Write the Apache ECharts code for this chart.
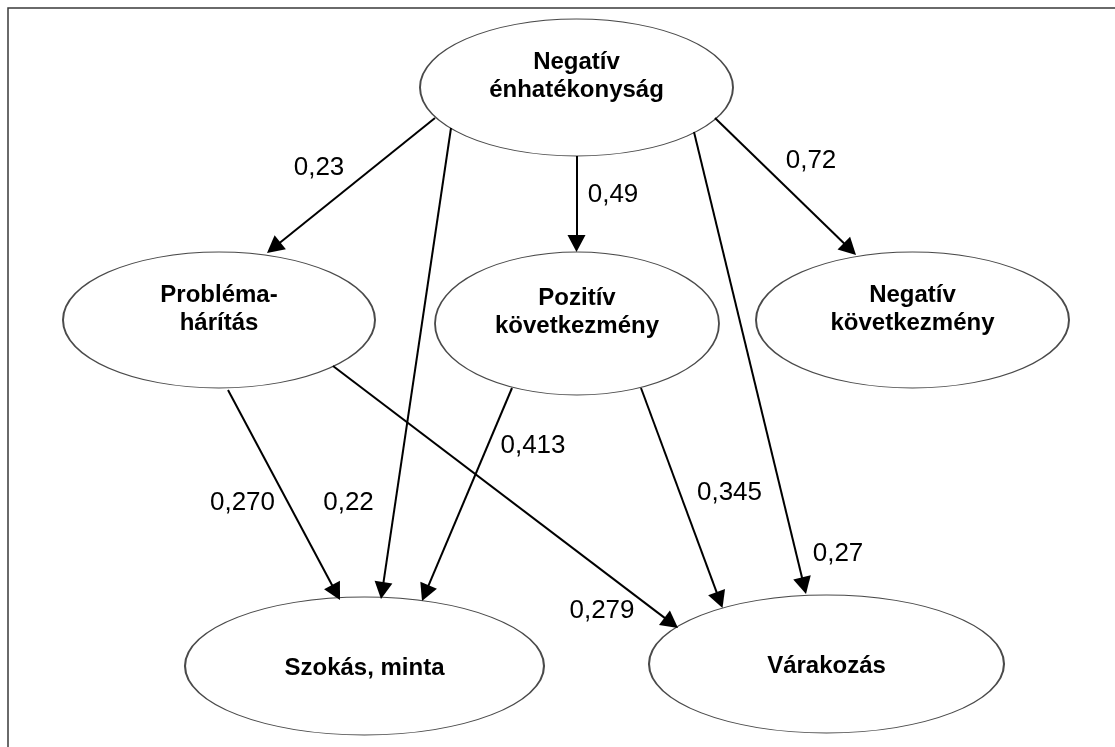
<!DOCTYPE html>
<html>
<head>
<meta charset="utf-8">
<script src="https://cdn.jsdelivr.net/npm/echarts@6/dist/echarts.min.js"></script>
<style>
html,body{margin:0;padding:0;background:#fff;}
#chart{width:1115px;height:747px;}
</style>
</head>
<body>
<div id="chart"></div>
<script>
// ---- Diagram data (positions in the diagram's own x/y units) ----
const nodeNames = ['Negatív\nénhatékonyság', 'Probléma-\nhárítás', 'Pozitív\nkövetkezmény', 'Negatív\nkövetkezmény', 'Szokás, minta', 'Várakozás'];
const nodeX = [576.5, 219, 577, 912.5, 364.5, 826.5];
const nodeY = [87.5, 320, 323.5, 320, 666, 664];
const nodeW = [313, 312, 284, 313, 359, 355];
const nodeH = [137, 136, 143, 136, 138, 138];

const pathCoefficients = ['0,23', '0,22', '0,49', '0,27', '0,72', '0,270', '0,279', '0,413', '0,345'];
const pathStart = [[435,118],[451,128],[576.5,156],[694,132],[715,118],[228,390],[333,366],[512,388],[641,388]];
const pathEnd   = [[267,253],[381,599],[576.5,252],[806,594],[856,255],[340,600],[678,628],[422,601],[722.5,608]];
const coefLabelX = [319, 348.5, 613, 838, 811, 242.5, 602, 533, 729.5];
const coefLabelY = [168, 503, 195, 554, 161, 503, 610.5, 446, 493];

// ---- build options ----
const ARROW_LEN = 17;
const ellipsePath = 'path://M50,0 C77.6,0 100,22.4 100,50 C100,77.6 77.6,100 50,100 C22.4,100 0,77.6 0,50 C0,22.4 22.4,0 50,0 Z';

const nodeData = nodeNames.map((n, i) => ({
  value: [nodeX[i], nodeY[i]],
  name: n,
  symbolSize: [nodeW[i], nodeH[i]],
  label: { offset: [0, n.indexOf('\n') >= 0 ? -11 : 2] }
}));

const lineData = pathStart.map((s, i) => {
  const e = pathEnd[i];
  const dx = e[0] - s[0], dy = e[1] - s[1];
  const len = Math.sqrt(dx * dx + dy * dy);
  const k = (len - ARROW_LEN / 2) / len;
  return { coords: [s, [s[0] + dx * k, s[1] + dy * k]] };
});

const labelData = pathCoefficients.map((c, i) => ({ value: [coefLabelX[i], coefLabelY[i]], name: c }));

const chart = echarts.init(document.getElementById('chart'));
chart.setOption({
  animation: false,
  backgroundColor: '#fff',
  grid: { left: 0, right: 0, top: 0, bottom: 0 },
  xAxis: { type: 'value', min: 0, max: 1115, show: false },
  yAxis: { type: 'value', min: 0, max: 747, inverse: true, show: false },
  graphic: [{
    type: 'rect', z: 100, silent: true,
    shape: { x: 8, y: 8, width: 1130, height: 760 },
    style: { fill: 'none', stroke: '#3a3a3a', lineWidth: 1.5 }
  }],
  series: [
    {
      type: 'scatter', z: 2,
      data: nodeData,
      symbol: ellipsePath,
      symbolKeepAspect: false,
      itemStyle: { color: '#fff', borderColor: '#4a4a4a', borderWidth: 1.3, opacity: 1 },
      label: {
        show: true, position: 'inside',
        formatter: p => p.name,
        fontFamily: '"Liberation Sans", Arial, sans-serif',
        fontWeight: 'bold', fontSize: 24, lineHeight: 28, color: '#000', align: 'center'
      },
      emphasis: { disabled: true }
    },
    {
      type: 'lines', coordinateSystem: 'cartesian2d', z: 3,
      data: lineData,
      symbol: ['none', 'triangle'],
      symbolSize: [0, [18, ARROW_LEN]],
      lineStyle: { color: '#000', width: 2, opacity: 1, curveness: 0 },
      emphasis: { disabled: true }
    },
    {
      type: 'scatter', z: 4,
      data: labelData,
      symbolSize: 0,
      itemStyle: { opacity: 1 },
      label: {
        show: true, position: 'inside',
        formatter: p => p.name,
        fontFamily: '"Liberation Sans", Arial, sans-serif',
        fontSize: 26, color: '#000', opacity: 1
      },
      emphasis: { disabled: true }
    }
  ]
});
</script>
</body>
</html>
